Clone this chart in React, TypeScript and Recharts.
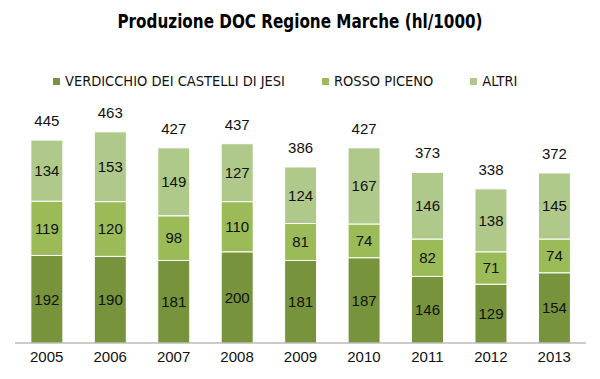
import React from "react";
import { BarChart, Bar, XAxis, YAxis, LabelList } from "recharts";

const years = ["2005", "2006", "2007", "2008", "2009", "2010", "2011", "2012", "2013"];
const verdicchio = [192, 190, 181, 200, 181, 187, 146, 129, 154];
const rossoPiceno = [119, 120, 98, 110, 81, 74, 82, 71, 74];
const altri = [134, 153, 149, 127, 124, 167, 146, 138, 145];
const totals = [445, 463, 427, 437, 386, 427, 373, 338, 372];

const series = [
  { key: "verdicchio", name: "VERDICCHIO DEI CASTELLI DI JESI", color: "#77933C" },
  { key: "rosso", name: "ROSSO PICENO", color: "#9BBB59" },
  { key: "altri", name: "ALTRI", color: "#AFC98A" },
];

const data = years.map((year, i) => ({
  year,
  verdicchio: verdicchio[i],
  rosso: rossoPiceno[i],
  altri: altri[i],
  total: totals[i],
}));

const condensed = "'DejaVu Sans Condensed', 'Liberation Sans Narrow', sans-serif";
const labelFont = { fontFamily: "Liberation Sans, Arial, sans-serif", fontSize: 15, fill: "#111" };

function TopLegend() {
  return (
    <div
      style={{
        position: "absolute",
        top: 73,
        left: 53,
        display: "flex",
        gap: 37,
        fontFamily: condensed,
        fontSize: 14.5,
        lineHeight: "17px",
        color: "#111",
        whiteSpace: "nowrap",
      }}
    >
      {series.map((s) => (
        <div key={s.key} style={{ display: "flex", alignItems: "center" }}>
          <span style={{ width: 7, height: 7, background: s.color, marginRight: 5, display: "inline-block" }} />
          {s.name}
        </div>
      ))}
    </div>
  );
}

export default function App() {
  return (
    <div style={{ position: "absolute", left: 0, top: 0, width: 600, height: 379, background: "#fff" }}>
      <div
        style={{
          position: "absolute",
          top: 10,
          left: 0,
          width: 600,
          textAlign: "center",
          fontFamily: condensed,
          fontWeight: "bold",
          fontSize: 19,
          lineHeight: "22px",
          color: "#000",
          transform: "scaleX(0.89)",
        }}
      >
        Produzione DOC Regione Marche (hl/1000)
      </div>
      <TopLegend />
      <BarChart
        width={600}
        height={379}
        data={data}
        margin={{ top: 115, right: 14, bottom: 6, left: 15 }}
        barCategoryGap="25%"
      >
        <XAxis
          dataKey="year"
          tickLine={false}
          height={30}
          stroke="#999"
          tick={{ ...labelFont, fill: "#111" }}
        />
        <YAxis hide domain={[0, 500]} />
        {series.map((s, idx) => (
          <Bar
            key={s.key}
            dataKey={s.key}
            name={s.name}
            stackId="a"
            fill={s.color}
            stroke="#fff"
            strokeWidth={1}
            isAnimationActive={false}
          >
            <LabelList dataKey={s.key} position="center" style={labelFont} />
            {idx === series.length - 1 && (
              <LabelList dataKey="total" position="top" offset={14} style={labelFont} />
            )}
          </Bar>
        ))}
      </BarChart>
    </div>
  );
}
